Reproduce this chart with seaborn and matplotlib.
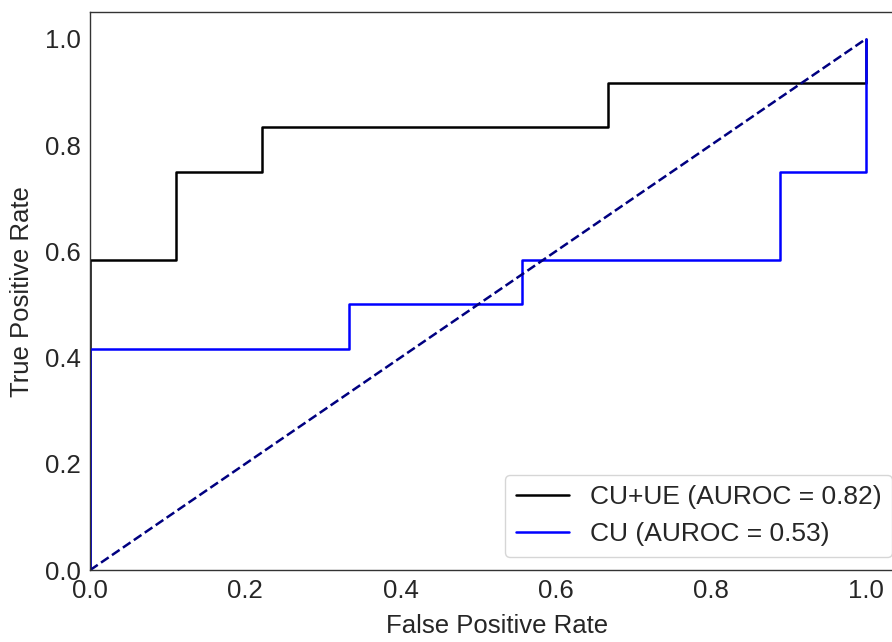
import matplotlib
matplotlib.use("Agg")
import matplotlib.pyplot as plt
import seaborn as sns

fpr_cu_ue = [0.0, 0.0, 0.111, 0.111, 0.222, 0.222, 0.667, 0.667, 1.0, 1.0]
tpr_cu_ue = [0.0, 0.583, 0.583, 0.75, 0.75, 0.833, 0.833, 0.917, 0.917, 1.0]
fpr_cu = [0.0, 0.0, 0.333, 0.333, 0.556, 0.556, 0.889, 0.889, 1.0, 1.0]
tpr_cu = [0.0, 0.417, 0.417, 0.5, 0.5, 0.583, 0.583, 0.75, 0.75, 1.0]
labels = ["CU+UE (AUROC = 0.82)", "CU (AUROC = 0.53)"]
chance = [0.0, 1.0]

sns.set_style("white")
plt.rcParams['font.family'] = ['Liberation Sans', 'DejaVu Sans']

fig = plt.figure(figsize=(8.92, 6.42), dpi=100)
# axes extends slightly past the right edge of the canvas (cropped like the reference)
ax = fig.add_axes([0.101, 0.112, 0.9136, 0.869])

sns.lineplot(x=fpr_cu_ue, y=tpr_cu_ue, sort=False, estimator=None, color="black", lw=1.8, label=labels[0], ax=ax)
sns.lineplot(x=fpr_cu, y=tpr_cu, sort=False, estimator=None, color="blue", lw=1.8, label=labels[1], ax=ax)
ax.plot(chance, chance, color="navy", lw=1.8, linestyle="--")

ax.set_xlim(0, 1.05)
ax.set_ylim(0, 1.05)
ax.set_xticks([0.0, 0.2, 0.4, 0.6, 0.8, 1.0])
ax.set_yticks([0.0, 0.2, 0.4, 0.6, 0.8, 1.0])
ax.tick_params(labelsize=18.5, pad=3, colors="#262626")
ax.set_xlabel("False Positive Rate", fontsize=18.5, color="#262626", labelpad=8)
ax.set_ylabel("True Positive Rate", fontsize=18.5, color="#262626", labelpad=8)
for s in ax.spines.values():
    s.set_color("#333333")
    s.set_linewidth(1.0)
leg = ax.legend(loc="lower right", fontsize=19, frameon=True)
for t in leg.get_texts():
    t.set_color("#262626")

fig.savefig("out.png", dpi=100)
